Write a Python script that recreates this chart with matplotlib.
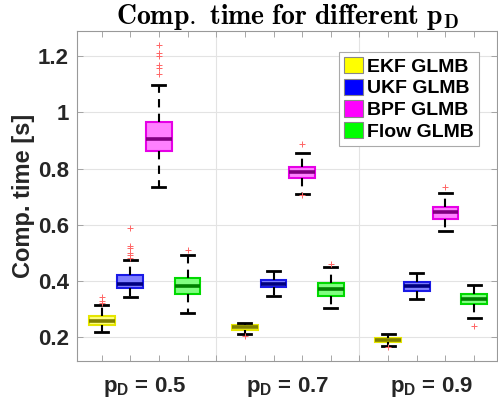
import matplotlib
matplotlib.use('Agg')
import matplotlib.pyplot as plt
from matplotlib.patches import Patch

# Box statistics, one entry per p_D value (0.5, 0.7, 0.9)
pd_labels = ['0.5', '0.7', '0.9']
methods = ['EKF GLMB', 'UKF GLMB', 'BPF GLMB', 'Flow GLMB']

ekf_q1 = [0.244, 0.226, 0.183]
ekf_med = [0.258, 0.235, 0.190]
ekf_q3 = [0.275, 0.242, 0.197]
ekf_lo = [0.217, 0.211, 0.169]
ekf_hi = [0.316, 0.252, 0.211]
ekf_fliers = [[0.343, 0.329, 0.322], [0.204], [0.165]]

ukf_q1 = [0.376, 0.377, 0.365]
ukf_med = [0.391, 0.391, 0.381]
ukf_q3 = [0.420, 0.405, 0.397]
ukf_lo = [0.343, 0.347, 0.336]
ukf_hi = [0.476, 0.436, 0.427]
ukf_fliers = [[0.587, 0.524, 0.516, 0.500, 0.492, 0.482], [], []]

bpf_q1 = [0.863, 0.766, 0.621]
bpf_med = [0.904, 0.788, 0.644]
bpf_q3 = [0.966, 0.806, 0.664]
bpf_lo = [0.735, 0.711, 0.577]
bpf_hi = [1.099, 0.856, 0.715]
bpf_fliers = [[1.239, 1.212, 1.200, 1.168, 1.160, 1.136], [0.889, 0.705], [0.733]]

flow_q1 = [0.353, 0.346, 0.318]
flow_med = [0.383, 0.370, 0.336]
flow_q3 = [0.412, 0.393, 0.352]
flow_lo = [0.286, 0.302, 0.268]
flow_hi = [0.491, 0.450, 0.385]
flow_fliers = [[0.512], [0.462], [0.239]]

edge_colors = ['#e6e600', '#1a1ae6', '#e600e6', '#00d900']
face_colors = ['#ffff80', '#8080ff', '#ff80ff', '#80ff80']
median_colors = ['#808000', '#000080', '#800080', '#008000']
legend_colors = ['#ffff00', '#0000ff', '#ff00ff', '#00ff00']

plt.rcParams['mathtext.fontset'] = 'custom'
plt.rcParams['mathtext.rm'] = 'Liberation Sans:bold'
plt.rcParams['mathtext.bf'] = 'Liberation Sans:bold'
plt.rcParams['mathtext.it'] = 'Liberation Sans:bold'
plt.rcParams['font.family'] = 'Liberation Sans'

fig = plt.figure(figsize=(4.98, 4.04), dpi=100)
ax = fig.add_axes([0.1546, 0.1064, 0.8434, 0.8168])

all_stats = [
    (ekf_q1, ekf_med, ekf_q3, ekf_lo, ekf_hi, ekf_fliers),
    (ukf_q1, ukf_med, ukf_q3, ukf_lo, ukf_hi, ukf_fliers),
    (bpf_q1, bpf_med, bpf_q3, bpf_lo, bpf_hi, bpf_fliers),
    (flow_q1, flow_med, flow_q3, flow_lo, flow_hi, flow_fliers),
]

n_methods = len(methods)
group_step = n_methods + 1
for m, (q1, med, q3, lo, hi, fl) in enumerate(all_stats):
    stats = []
    positions = []
    for g in range(len(pd_labels)):
        stats.append(dict(q1=q1[g], med=med[g], q3=q3[g], whislo=lo[g],
                          whishi=hi[g], fliers=fl[g]))
        positions.append(g * group_step + m + 1)
    ax.bxp(stats, positions=positions, widths=0.9, patch_artist=True,
           showfliers=True, manage_ticks=False,
           boxprops=dict(facecolor=face_colors[m], edgecolor=edge_colors[m],
                         linewidth=1.5),
           medianprops=dict(color=median_colors[m], linewidth=2.6,
                            solid_capstyle='butt'),
           whiskerprops=dict(color='black', linewidth=1.5, linestyle=(0, (4, 3))),
           capprops=dict(color='black', linewidth=2.0),
           capwidths=0.45,
           flierprops=dict(marker='+', markeredgecolor='#ff6666',
                           markersize=5, markeredgewidth=0.7, linestyle='none'),
           zorder=3)

# group separators
for g in range(1, len(pd_labels)):
    ax.axvline(g * group_step, color='#e3e3e3', linewidth=0.8, zorder=0)

ax.set_xlim(0.14, 14.8)
ax.set_ylim(0.115, 1.29)
ax.set_yticks([0.2, 0.4, 0.6, 0.8, 1.0, 1.2])
ax.set_yticklabels(['0.2', '0.4', '0.6', '0.8', '1', '1.2'])
ax.yaxis.grid(True, color='#e3e3e3', linewidth=0.8)
ax.set_axisbelow(True)

centers = [g * group_step + (n_methods + 1) / 2 for g in range(len(pd_labels))]
ax.set_xticks(centers)
ax.set_xticklabels([r'$\mathbf{p_D}$ = ' + v for v in pd_labels])
ax.set_xticks(range(1, len(pd_labels) * group_step), minor=True)
ax.tick_params(axis='x', which='major', length=0, pad=10)
ax.tick_params(axis='x', which='minor', direction='in', length=4,
               top=True, bottom=True, color='#999999', width=0.6)
ax.tick_params(axis='y', which='major', direction='in', length=4,
               left=True, right=True, color='#999999', width=0.6, pad=6)
ax.tick_params(labelsize=16, labelcolor='#262626')
for lab in ax.get_xticklabels() + ax.get_yticklabels():
    lab.set_fontweight('bold')

for s in ax.spines.values():
    s.set_color('#999999')
    s.set_linewidth(0.8)

ax.set_ylabel('Comp. time [s]', fontsize=17, fontweight='bold',
              color='#262626', labelpad=2)

title = ax.set_title(r'$\mathbf{Comp.\ time\ for\ different\ p_D}$',
                     fontsize=20, pad=5)
title.set_math_fontfamily('cm')

handles = [Patch(facecolor=c, edgecolor='#888888', linewidth=0.8) for c in legend_colors]
leg = ax.legend(handles, methods, loc='upper right', bbox_to_anchor=(0.957, 0.936),
                prop=dict(family='Liberation Sans', weight='bold', size=14),
                frameon=True, fancybox=False, framealpha=1, edgecolor='#aaaaaa',
                handlelength=1.0, handleheight=0.9, handletextpad=0.2,
                labelspacing=0.15, borderpad=0.25, borderaxespad=0)
leg.get_frame().set_linewidth(0.8)

fig.savefig('out.png', dpi=100, facecolor='white')
